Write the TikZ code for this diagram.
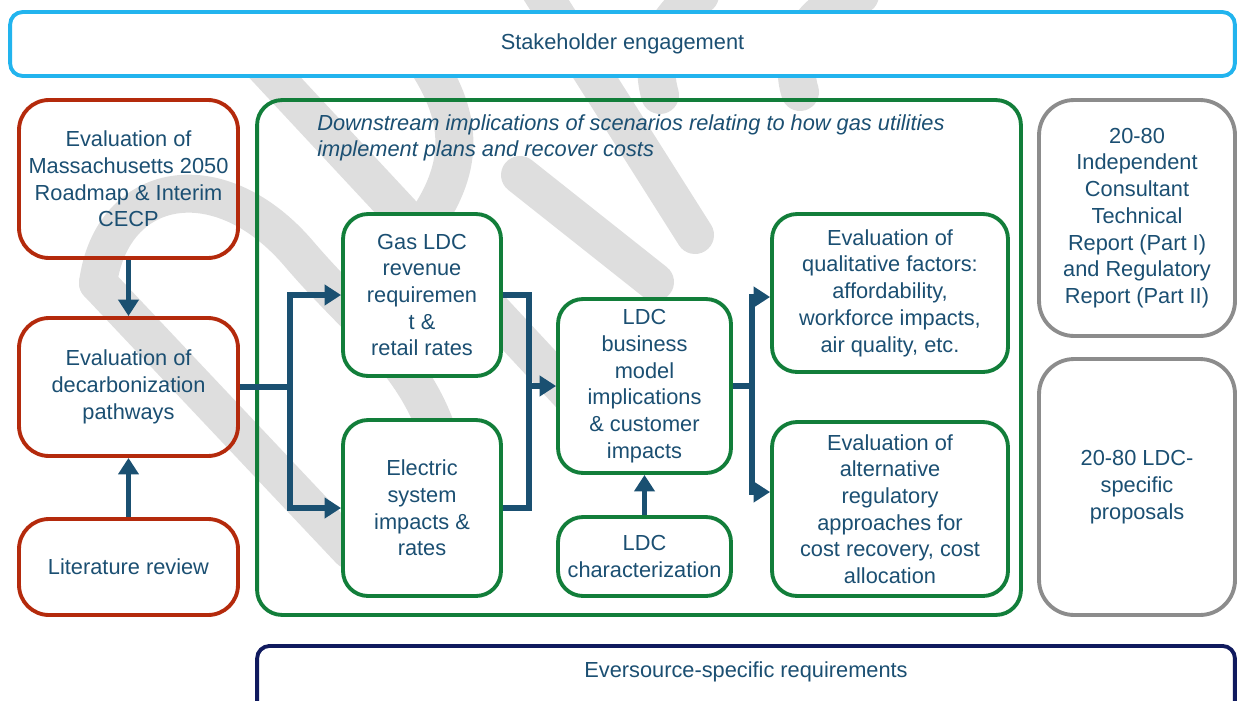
\documentclass[tikz,border=0pt]{standalone}
\usepackage{fontspec}
\setmainfont{Liberation Sans}
\usetikzlibrary{arrows.meta}

\definecolor{inkblue}{HTML}{1B4F72}
\definecolor{skyline}{HTML}{22B4EE}
\definecolor{rust}{HTML}{B42A0C}
\definecolor{leaf}{HTML}{127E3A}
\definecolor{slate}{HTML}{8C8C8C}
\definecolor{navy}{HTML}{101A5E}
\definecolor{arrowblue}{HTML}{1A5071}
\definecolor{ghost}{HTML}{DEDEDE}

\tikzset{
  txt/.style={text=inkblue, font=\fontsize{12.4}{15.2}\selectfont, align=center},
  panel/.style={txt, line width=2.2pt, fill=white, inner sep=2pt},
  redbox/.style={panel, draw=rust, fill=none, rounded corners=0.6cm, minimum width=4.38cm},
  greenbox/.style={panel, draw=leaf, rounded corners=0.5cm},
  graybox/.style={panel, draw=slate, rounded corners=0.7cm, minimum width=3.92cm},
  flowline/.style={draw=arrowblue, line width=2.9pt},
  flow/.style={flowline, -{Triangle[length=0.33cm,width=0.4cm]}},
  ghoststroke/.style={draw=ghost, line width=0.76cm, line cap=round},
}

\begin{document}
\begin{tikzpicture}[x=0.02cm, y=-0.02cm]
    \useasboundingbox (0,0) rectangle (1239,700);
    \clip (0,0) rectangle (1239,700);

    % faint strokes in the background
    \draw[ghoststroke] (540,-10) -- (695,235);
    \draw[ghoststroke] (700,-5) .. controls (660,20) and (650,60) .. (660,95);
    \draw[ghoststroke] (860,-5) .. controls (800,10) and (790,60) .. (800,92);
    \draw[ghoststroke] (240,40) -- (580,405);
    \draw[ghoststroke] (425,60) .. controls (465,120) and (465,170) .. (420,230);
    \draw[ghoststroke] (98,283) .. controls (112,180) and (220,160) .. (300,255)
        .. controls (360,325) and (415,360) .. (440,440);
    \draw[ghoststroke] (98,283) -- (350,550);
    \draw[ghoststroke] (520,175) -- (655,282);

    % top and bottom bands
    \node[panel, draw=skyline, rounded corners=0.25cm, minimum width=24.5cm, minimum height=1.28cm]
        (stake) at (622.5,44) {Stakeholder engagement};
    \node[panel, draw=navy, rounded corners=0.25cm, minimum width=19.56cm, minimum height=1.6cm, anchor=north]
        (ever) at (746,644) {};
    \node[txt] (everlbl) at (746,672) {Eversource-specific requirements};

    % left column
    \node[redbox, minimum height=3.16cm] (mass) at (128.5,179)
        {Evaluation of\\Massachusetts 2050\\Roadmap \& Interim\\CECP};
    \node[redbox, minimum height=2.76cm] (decarb) at (128.5,387)
        {Evaluation of\\decarbonization\\pathways};
    \node[redbox, minimum height=1.92cm] (lit) at (128.5,567) {Literature review};

    % scenario block
    \node[draw=leaf, line width=2.2pt, rounded corners=0.5cm, minimum width=15.28cm, minimum height=10.3cm]
        (down) at (639,357.5) {};
    \node[txt, font=\fontsize{12.4}{15.2}\selectfont\itshape, align=left, anchor=north west, inner sep=0pt]
        (scn) at (317,114) {Downstream implications of scenarios relating to how gas utilities\\implement plans and recover costs};

    \node[greenbox, minimum width=3.16cm, minimum height=3.24cm] (gas) at (422,295)
        {Gas LDC\\revenue\\requiremen\\t \&\\retail rates};
    \node[greenbox, minimum width=3.16cm, minimum height=3.52cm] (elec) at (422,508)
        {Electric\\system\\impacts \&\\rates};
    \node[greenbox, minimum width=3.46cm, minimum height=3.48cm] (ldc) at (644.5,386)
        {LDC\\business\\model\\implications\\\& customer\\impacts};
    \node[greenbox, minimum width=3.46cm, minimum height=1.58cm] (ldcchar) at (644.5,556.5)
        {LDC\\characterization};
    \node[greenbox, minimum width=4.72cm, minimum height=3.16cm] (qual) at (890,293)
        {Evaluation of\\qualitative factors:\\affordability,\\workforce impacts,\\air quality, etc.};
    \node[greenbox, minimum width=4.72cm, minimum height=3.48cm] (alt) at (890,509)
        {Evaluation of\\alternative\\regulatory\\approaches for\\cost recovery, cost\\allocation};

    % right column
    \node[graybox, minimum height=4.72cm] (report) at (1137,218)
        {20-80\\Independent\\Consultant\\Technical\\Report (Part I)\\and Regulatory\\Report (Part II)};
    \node[graybox, minimum height=5.12cm] (proposals) at (1137,487)
        {20-80 LDC-\\specific\\proposals};

    % connectors
    \coordinate (j1) at (290,387);
    \coordinate (j2) at (529,386);
    \coordinate (j3) at (752,386);
    \coordinate (qualin) at (qual.west |- 0,297);
    \coordinate (altin) at (alt.west |- 0,492);

    \draw[flow] (mass.south) -- (decarb.north);
    \draw[flow] (lit.north) -- (decarb.south);

    \draw[flowline] (decarb.east) -- (j1);
    \draw[flow] (j1) |- (gas.west);
    \draw[flow] (j1) |- (elec.west);

    \draw[flowline] (gas.east) -| (j2) |- (elec.east);
    \draw[flow] (j2) -- (ldc.west);
    \draw[flow] (ldcchar.north) -- (ldc.south);

    \draw[flowline] (ldc.east) -- (j3);
    \draw[flow] (j3) |- (qualin);
    \draw[flow] (j3) |- (altin);
\end{tikzpicture}
\end{document}
